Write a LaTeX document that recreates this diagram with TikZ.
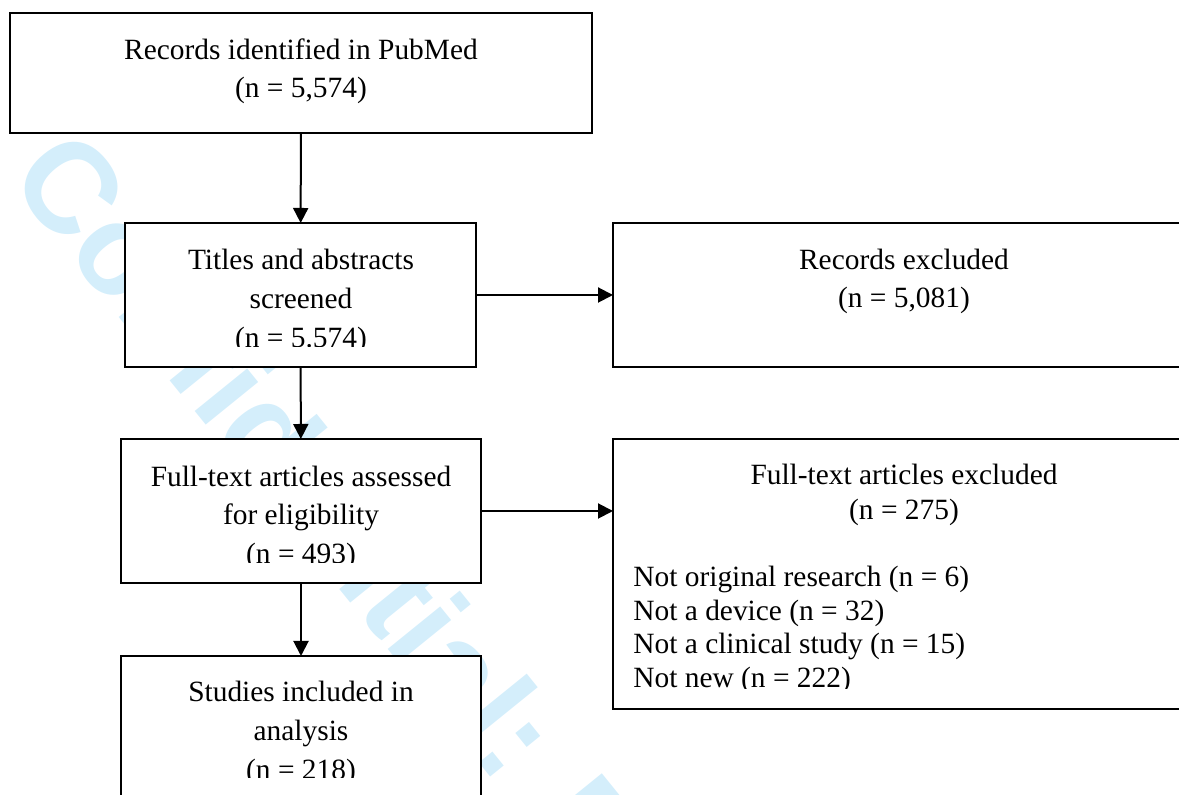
\documentclass[tikz,border=0pt]{standalone}
\usepackage{fontspec}
\setmainfont{Liberation Serif}
\newfontfamily\wmfont{Liberation Sans}
\usetikzlibrary{arrows.meta}
\definecolor{wmcyan}{RGB}{212,238,251}
\tikzset{
  box/.style={draw,fill=white,line width=1pt,inner sep=0pt,outer sep=0pt},
  lbl/.style={anchor=base,inner sep=0pt,font=\fontsize{14.7}{17}\selectfont},
  lbll/.style={lbl,anchor=base west},
  arr/.style={line width=1pt,-{Stealth[inset=0pt,length=7.5pt,width=7.5pt]}},
}
\begin{document}
\begin{tikzpicture}[x=0.5pt,y=-0.5pt]
\pgfmathsetmacro{\kcl}{301}
\pgfmathsetmacro{\kcr}{904}
\path[use as bounding box](0,0)rectangle(1179,795);
\clip(0,0)rectangle(1179,795);
\node[anchor=base west,inner sep=0pt,rotate=-51,text=wmcyan,font=\wmfont\bfseries\fontsize{64}{64}\selectfont](wm) at (6,178){Confidential: For Review Only};
% boxes
\node[box,line width=1.3pt,minimum width=291pt,minimum height=60pt](recs) at (\kcl,73){};
\node[box,minimum width=175.5pt,minimum height=72pt](tas) at (300.5,295){};
\node[box,minimum width=291pt,minimum height=72pt](rex) at (904,295){};
\node[box,minimum width=180pt,minimum height=72pt](fta) at (\kcl,511){};
\node[box,minimum width=291pt,minimum height=135pt](ftx) at (904,574){};
\node[box,minimum width=180pt,minimum height=80pt](inc) at (\kcl,736){};
% texts
\foreach \ty/\tx in {60/Records identified in PubMed,98/{(n = 5,574)}}{\node[lbl] at (\kcl,\ty){\tx};}
\foreach \ty/\tx in {270/Records excluded,308/{(n = 5,081)}}{\node[lbl] at (\kcr,\ty){\tx};}
\begin{scope}
\clip(125,223)rectangle(476,347);
\foreach \ty/\tx in {270/Titles and abstracts,309/screened,348/{(n = 5.574)}}{\node[lbl] at (\kcl,\ty){\tx};}
\end{scope}
\begin{scope}
\clip(121,439)rectangle(481,563);
\foreach \ty/\tx in {487/Full-text articles assessed,525/for eligibility,564/{(n = 493)}}{\node[lbl] at (\kcl,\ty){\tx};}
\end{scope}
\begin{scope}
\clip(121,656)rectangle(481,778);
\foreach \ty/\tx in {702/Studies included in,741/analysis,780/{(n = 218)}}{\node[lbl] at (\kcl,\ty){\tx};}
\end{scope}
\begin{scope}
\clip(613,439)rectangle(1179,689);
\foreach \ty/\tx in {485/Full-text articles excluded,520/{(n = 275)}}{\node[lbl] at (\kcr,\ty){\tx};}
\foreach \ty/\tx in {587/{Not original research (n = 6)},621/{Not a device (n = 32)},654/{Not a clinical study (n = 15)},688/{Not new (n = 222)}}{\node[lbll] at (633,\ty){\tx};}
\end{scope}
% arrows
\draw[arr](recs)--(tas);
\draw[arr](tas)--(fta);
\draw[arr](fta)--(inc);
\draw[arr](tas.east)--(rex.west);
\draw[arr](fta.east)--(fta.east-|ftx.west);
\end{tikzpicture}
\end{document}
